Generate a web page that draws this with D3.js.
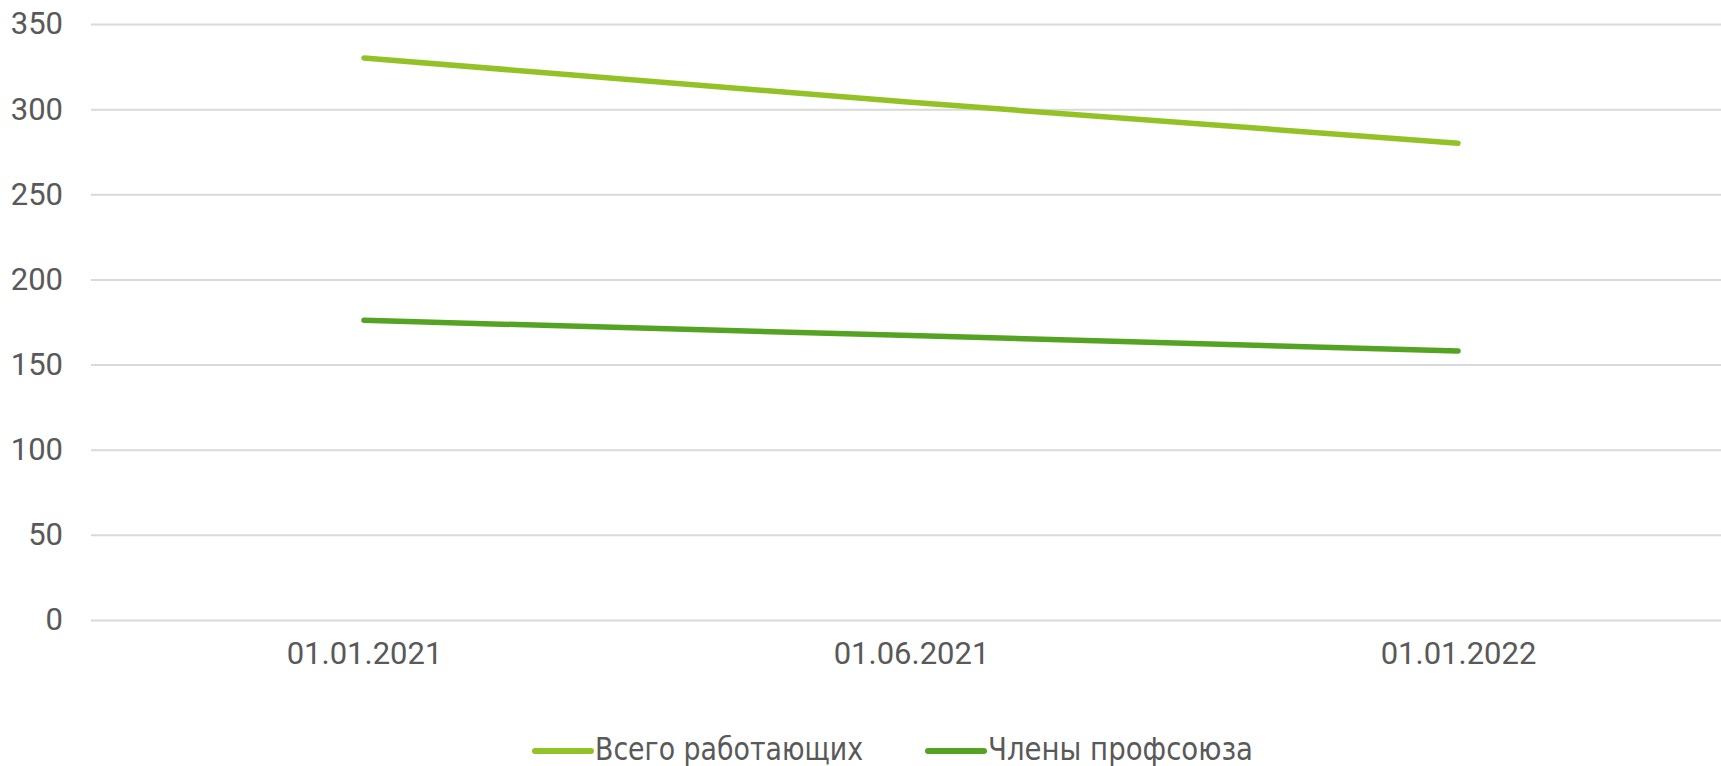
<!DOCTYPE html>
<html>
<head>
<meta charset="utf-8">
<script src="https://cdn.jsdelivr.net/npm/d3@7"></script>
<style>
  body { margin: 0; background: #fff; }
  svg { display: block; }
</style>
</head>
<body>
<div id="chart"></div>
<script>
// data
var dates = ["01.01.2021", "01.06.2021", "01.01.2022"];
var totalWorkers = [330, 304, 280];
var unionMembers = [176, 167, 158];
var yTicks = [0, 50, 100, 150, 200, 250, 300, 350];
var seriesNames = ["Всего работающих", "Члены профсоюза"];
var seriesColors = ["#92c225", "#55a322"];

var W = 1721, H = 766;
var margin = {top: 24, left: 91, bottom: 146};

var svg = d3.select("#chart")
  .append("svg")
    .attr("width", W)
    .attr("height", H);

// scales
var x = d3.scalePoint()
  .domain(dates)
  .range([364, 1458]);

var y = d3.scaleLinear()
  .domain([0, 350])
  .range([H - margin.bottom, margin.top]);

// grid lines + y labels
var yAxis = svg.append("g")
  .attr("transform", "translate(" + margin.left + ",0)")
  .call(d3.axisLeft(y).tickValues(yTicks).tickSize(-(W - margin.left)).tickPadding(28));

yAxis.select(".domain").remove();
yAxis.selectAll(".tick line")
  .attr("stroke", "#d9d9d9")
  .attr("stroke-width", 2);
yAxis.selectAll(".tick text")
  .attr("fill", "#595959")
  .attr("font-family", "Roboto, sans-serif")
  .attr("font-size", "31px");

// x labels
var xAxis = svg.append("g")
  .attr("transform", "translate(0," + (H - margin.bottom) + ")")
  .call(d3.axisBottom(x).tickSize(0).tickPadding(22));

xAxis.select(".domain").remove();
xAxis.selectAll(".tick text")
  .attr("fill", "#595959")
  .attr("font-family", "Roboto, sans-serif")
  .attr("font-size", "31px");

// lines
var line = d3.line()
  .x(function(d, i) { return x(dates[i]); })
  .y(function(d) { return y(d); });

[totalWorkers, unionMembers].forEach(function(vals, k) {
  svg.append("path")
    .datum(vals)
    .attr("fill", "none")
    .attr("stroke", seriesColors[k])
    .attr("stroke-width", 5.5)
    .attr("stroke-linecap", "round")
    .attr("stroke-linejoin", "round")
    .attr("d", line);
});

// legend
var legendX = [535, 928];
var legendTextW = [268, 265];
var legend = svg.append("g");
seriesNames.forEach(function(name, k) {
  var g = legend.append("g").attr("transform", "translate(" + legendX[k] + ",751)");
  g.append("line")
    .attr("x1", 0).attr("x2", 56)
    .attr("y1", 0).attr("y2", 0)
    .attr("stroke", seriesColors[k])
    .attr("stroke-width", 6)
    .attr("stroke-linecap", "round");
  g.append("text")
    .attr("x", 60)
    .attr("y", 9)
    .attr("fill", "#595959")
    .attr("font-family", "'DejaVu Sans Condensed', 'DejaVu Sans', sans-serif")
    .attr("font-size", "32px")
    .attr("textLength", legendTextW[k])
    .attr("lengthAdjust", "spacingAndGlyphs")
    .text(name);
});
</script>
</body>
</html>
